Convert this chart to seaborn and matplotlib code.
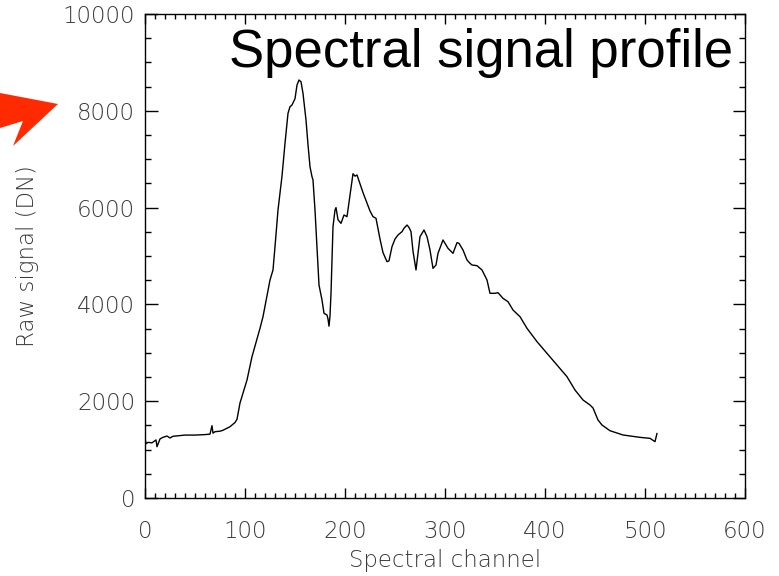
import matplotlib
matplotlib.use("Agg")
import matplotlib.pyplot as plt
from matplotlib.patches import Polygon
from matplotlib.ticker import MultipleLocator
import pandas as pd
import seaborn as sns

# Spectral profile: channel index and raw detector signal (DN)
channels = [0, 1, 3, 7, 11, 12, 15, 18, 22, 25, 28, 35, 40, 50, 60, 65, 67, 68,
            70, 75, 78, 85, 90, 92, 95, 102, 107, 115, 118, 125, 128, 130, 133,
            137, 140, 143, 145, 147, 150, 152, 154, 156, 158, 161, 163, 165, 167,
            168, 170, 172, 174, 177, 179, 182, 183, 184, 185, 186, 188, 190, 191,
            193, 196, 199, 202, 205, 208, 210, 212, 218, 225, 228, 231, 235, 238,
            242, 244, 247, 250, 253, 257, 259, 262, 264, 266, 268, 271, 273, 275,
            279, 282, 285, 288, 291, 293, 298, 300, 303, 308, 312, 314, 318, 322,
            325, 327, 332, 337, 342, 345, 350, 353, 358, 363, 368, 375, 382, 392,
            402, 412, 422, 430, 438, 445, 448, 453, 457, 465, 473, 478, 486, 495,
            505, 510, 512]
raw_signal = [1250, 1120, 1150, 1140, 1200, 1060, 1220, 1254, 1280, 1240, 1275,
              1290, 1300, 1300, 1310, 1320, 1494, 1340, 1370, 1380, 1400, 1473,
              1560, 1626, 1963, 2438, 2920, 3506, 3746, 4504, 4711, 5192, 5950,
              6650, 7328, 7948, 8085, 8120, 8250, 8533, 8636, 8600, 8360, 7810,
              7300, 6845, 6638, 6570, 5950, 5192, 4400, 4091, 3816, 3781, 3700,
              3550, 3760, 4229, 5606, 5950, 6000, 5750, 5675, 5847, 5813, 6260,
              6700, 6650, 6674, 6310, 5930, 5813, 5779, 5350, 5070, 4882, 4900,
              5193, 5350, 5434, 5503, 5572, 5640, 5590, 5503, 5100, 4711, 5055,
              5400, 5537, 5400, 5124, 4745, 4814, 5055, 5331, 5262, 5159, 5055,
              5275, 5262, 5124, 4917, 4849, 4814, 4800, 4711, 4504, 4229, 4229,
              4242, 4125, 4056, 3884, 3746, 3506, 3230, 2989, 2748, 2506, 2231,
              2025, 1921, 1860, 1612, 1508, 1390, 1336, 1302, 1280, 1253, 1233,
              1164, 1336]

xticks = [0, 100, 200, 300, 400, 500, 600]
yticks = [0, 2000, 4000, 6000, 8000, 10000]

df = pd.DataFrame({"channel": channels, "signal": raw_signal})

sns.set_style("ticks")
plt.rcParams["font.family"] = ["DejaVu Sans"]

W, H = 779, 576
fig = plt.figure(figsize=(W / 100, H / 100), dpi=100)
ax = fig.add_axes([145 / W, 1 - 498 / H, 600 / W, 484 / H])

sns.lineplot(data=df, x="channel", y="signal", ax=ax, color="black",
             linewidth=1.0, estimator=None, sort=False)

ax.set_xlim(0, 600)
ax.set_ylim(0, 10000)
ax.set_xticks(xticks)
ax.set_yticks(yticks)
ax.xaxis.set_minor_locator(MultipleLocator(10))
ax.yaxis.set_minor_locator(MultipleLocator(500))

label_font = dict(fontsize=16.5, color="#3a3a3a", fontweight="light")
ax.set_xticklabels([str(t) for t in xticks], **label_font)
ax.set_yticklabels([str(t) for t in yticks], **label_font)

ax.tick_params(axis="both", which="both", direction="in", top=True, right=True,
               color="black", width=1.0)
ax.tick_params(axis="x", which="major", length=7.5, pad=16)
ax.tick_params(axis="x", which="minor", length=3.6)
ax.tick_params(axis="y", which="major", length=9, pad=7)
ax.tick_params(axis="y", which="minor", length=4.5)

for sp in ax.spines.values():
    sp.set_color("black")
    sp.set_linewidth(1.0)

ax.set_xlabel("Spectral channel", labelpad=4, **label_font)
ax.set_ylabel("Raw signal (DN)", labelpad=17, **label_font)

ax.text(0.98, 0.972, "Spectral signal profile", transform=ax.transAxes,
        ha="right", va="top", fontsize=38, family="Liberation Sans",
        color="black")

# Red pointer arrow aimed at the 8000 level
arrow_px = [(0, 93), (58, 104), (13, 146), (23, 121), (0, 128)]
arrow = Polygon([(x / W, 1 - y / H) for x, y in arrow_px], closed=True,
                transform=fig.transFigure, facecolor="#ff2a00",
                edgecolor="none")
fig.patches.append(arrow)

fig.savefig("out.png", dpi=100, facecolor="white")
